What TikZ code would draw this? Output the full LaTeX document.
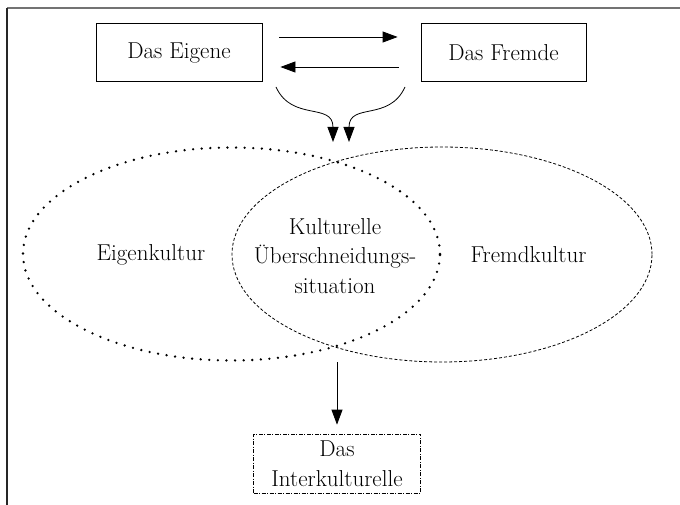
\documentclass[tikz,border=0pt]{standalone}
\usepackage{fontspec}
\usetikzlibrary{arrows.meta}
\usetikzlibrary{shapes.geometric}

\begin{document}
\begin{tikzpicture}[x=1pt, y=-1pt, line width=0.8pt,
    txt/.style={font=\fontsize{23}{29.5}\selectfont, align=center},
    kasten/.style={draw, txt, minimum height=58pt, inner sep=4pt},
    pfeil/.style={-{Triangle[length=15pt, width=11pt]}}]
      \useasboundingbox (0,0) rectangle (680,505);
      \draw[line width=1.3pt, black!55] (7,8) -- (680,8);
      \draw[line width=1.3pt, black!85] (7,8) -- (7,505);

      \node[kasten, minimum width=166pt] (eigene) at (179,52.5) {Das Eigene};
      \node[kasten, minimum width=165pt] (fremde) at (503.5,52.5) {Das Fremde};

      \draw[pfeil, shorten <=17pt, shorten >=23pt] ([yshift=15.5pt]eigene.east) -- ([yshift=15.5pt]fremde.west);
      \draw[pfeil, shorten <=22pt, shorten >=18pt] ([yshift=-14.5pt]fremde.west) -- ([yshift=-14.5pt]eigene.east);

      \coordinate (linksoben) at (276,87);
      \coordinate (rechtsoben) at (405,87);
      \coordinate (linksspitze) at (333,142);
      \coordinate (rechtsspitze) at (349,142);
      \draw[pfeil] (linksoben) .. controls (292,122) and (333,102) .. (linksspitze);
      \draw[pfeil] (rechtsoben) .. controls (389,122) and (349,102) .. (rechtsspitze);

      \node[ellipse, draw, line width=2.6pt, line cap=round, dash pattern=on 0pt off 8.6pt,
            minimum width=417pt, minimum height=213pt, inner sep=0pt] (eigenkultur) at (231.5,254) {};
      \node[ellipse, draw, line width=0.8pt, dash pattern=on 3pt off 2pt,
            minimum width=420pt, minimum height=215pt, inner sep=0pt] (fremdkultur) at (442,254.5) {};

      \node[txt] (eigen) at (151,255) {Eigenkultur};
      \node[txt] (fremd) at (528.5,255) {Fremdkultur};
      \node[txt] (mitte) at (335,256) {Kulturelle\\Überschneidungs-\\situation};

      \node[kasten, minimum width=167pt, minimum height=59pt, line width=0.7pt,
            dash pattern=on 4pt off 1.5pt on 1pt off 1.5pt] (inter) at (337,463.5) {Das\\Interkulturelle};

      \coordinate (schnitt) at (337,362);
      \draw[pfeil, shorten >=9pt] (schnitt) -- (inter.north);
\end{tikzpicture}
\end{document}
